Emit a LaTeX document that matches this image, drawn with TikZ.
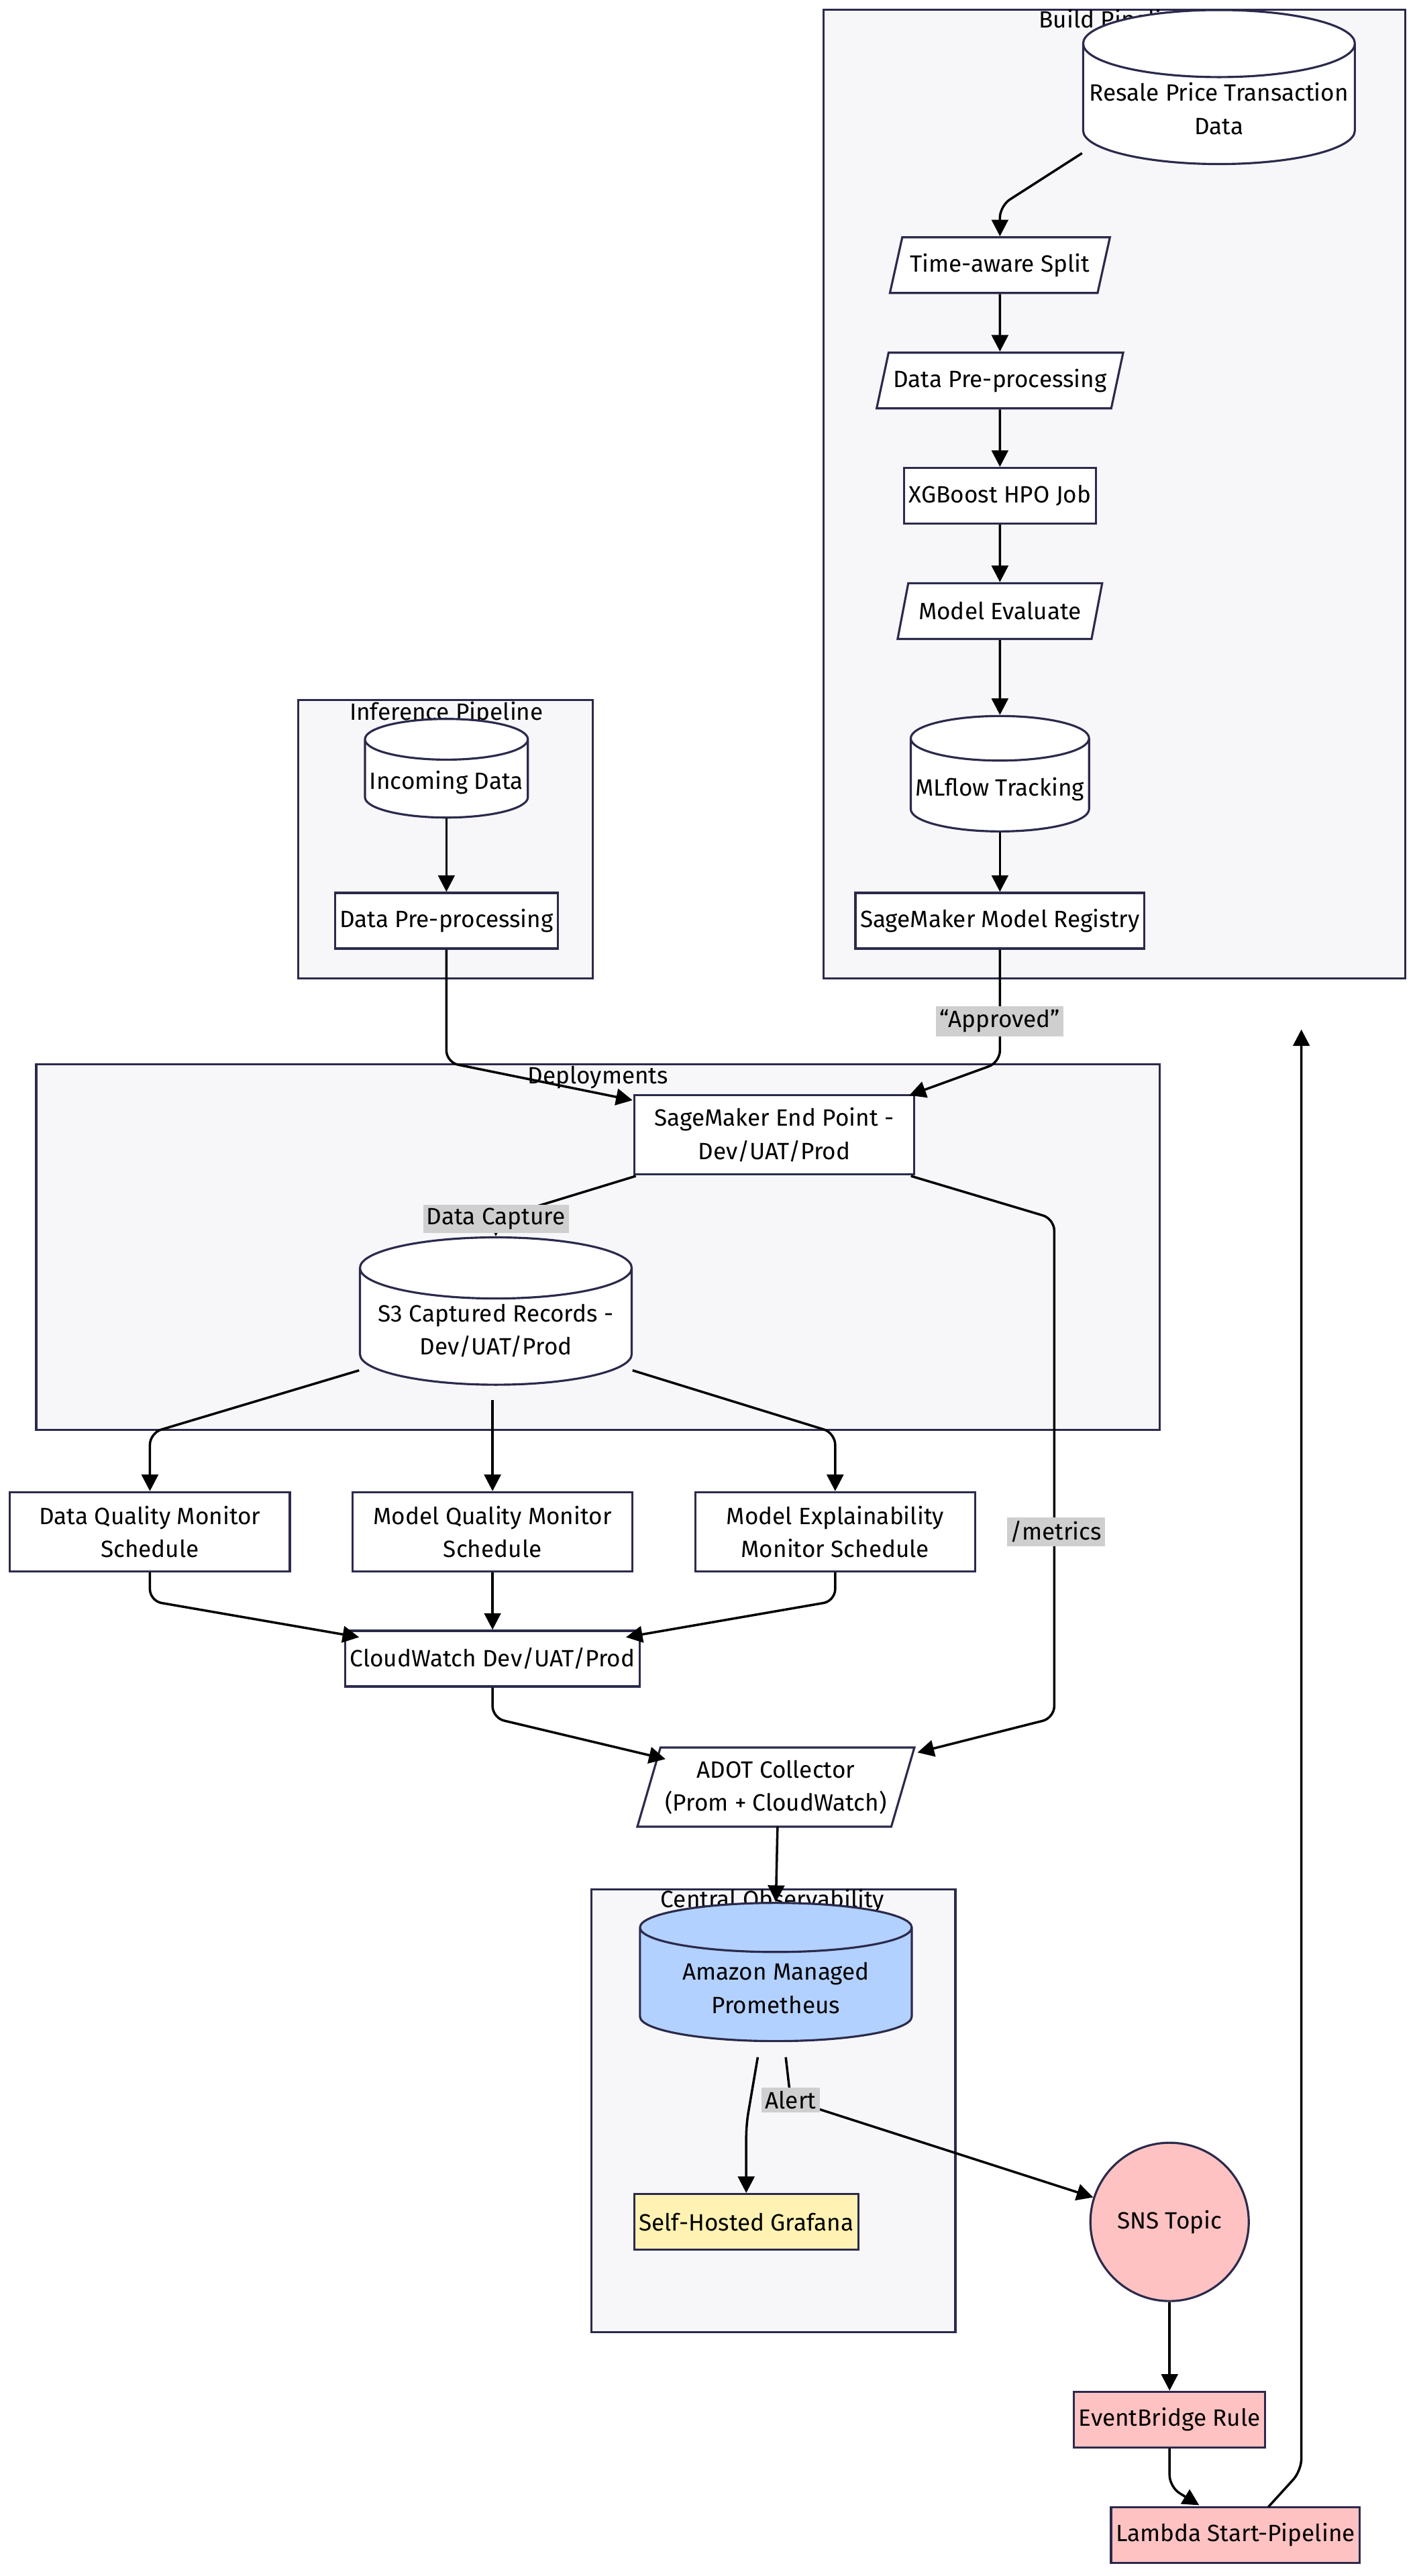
\documentclass[tikz,border=0pt]{standalone}
\usepackage{fontspec}
\setmainfont{Fira Sans}
\usetikzlibrary{shapes.geometric,arrows.meta}
\definecolor{navy}{HTML}{2B2A4C}
\definecolor{clusterbg}{HTML}{F7F7FA}
\definecolor{ampblue}{HTML}{B3D1FF}
\definecolor{grafyellow}{HTML}{FFF2B3}
\definecolor{alertred}{HTML}{FFC2C2}
\definecolor{lblgray}{HTML}{CFCFCF}
\tikzset{
  box/.style={draw=navy,fill=white,line width=0.9pt,align=center,font=\fontsize{10}{14}\selectfont,minimum height=0.83cm,inner sep=2pt},
  db/.style={box,cylinder,shape border rotate=90,aspect=0.25},
  para/.style={box,trapezium,trapezium left angle=70,trapezium right angle=110,trapezium stretches=true},
  cluster/.style={draw=navy,fill=clusterbg,line width=0.9pt},
  ctitle/.style={font=\fontsize{10}{12}\selectfont,inner sep=1pt},
  flow/.style={draw=black,line width=1pt,rounded corners=5pt,-{Triangle[length=7pt,width=7pt]}},
  elabel/.style={fill=lblgray,font=\fontsize{10}{12}\selectfont,inner sep=1.5pt}
}
\begin{document}
\begin{tikzpicture}[x=0.02455cm,y=-0.02455cm]
\useasboundingbox (0,0) rectangle (860,1564);
% clusters
\draw[cluster] (500,6) rectangle (853,594);
\node[ctitle] at (676,13) {Build Pipeline};
\draw[cluster] (181,425) rectangle (360,594);
\node[ctitle] at (271,433) {Inference Pipeline};
\draw[cluster] (22,646) rectangle (704,868);
\node[ctitle] at (363,654) {Deployments};
\draw[cluster] (359,1147) rectangle (580,1416);
\node[ctitle] at (469,1154) {Central Observability};
% build pipeline
\node[db,minimum width=4.05cm,minimum height=2.06cm] (resale) at (740,66) {Resale Price Transaction\\Data};
\node[para,minimum width=3.3cm] (split) at (607,161) {Time-aware Split};
\node[para,minimum width=3.68cm] (prep) at (607,231) {Data Pre-processing};
\node[box,minimum width=2.65cm] (hpo) at (607,301) {XGBoost HPO Job};
\node[para,minimum width=3.07cm] (eval) at (607,371) {Model Evaluate};
\node[db,minimum width=2.5cm,minimum height=1.72cm] (mlflow) at (607,479) {MLflow Tracking};
\node[box,minimum width=3.93cm] (registry) at (607,559) {SageMaker Model Registry};
% inference pipeline
\node[db,minimum width=2.26cm,minimum height=1.47cm] (incoming) at (271,475) {Incoming Data};
\node[box,minimum width=3.14cm] (iprep) at (271,559) {Data Pre-processing};
% deployments
\node[box,minimum width=4.17cm,minimum height=1.18cm] (endpoint) at (470,689) {SageMaker End Point -\\Dev/UAT/Prod};
\node[db,minimum width=4.05cm,minimum height=2.06cm] (s3) at (301,808) {S3 Captured Records -\\Dev/UAT/Prod};
% monitors
\node[box,minimum width=4.17cm,minimum height=1.18cm] (dqm) at (91,930) {Data Quality Monitor\\Schedule};
\node[box,minimum width=4.17cm,minimum height=1.18cm] (mqm) at (299,930) {Model Quality Monitor\\Schedule};
\node[box,minimum width=4.17cm,minimum height=1.18cm] (mem) at (507,930) {Model Explainability\\Monitor Schedule};
\node[box,minimum width=3.88cm] (cw) at (299,1007) {CloudWatch Dev/UAT/Prod};
\node[para,minimum width=4.1cm,minimum height=1.18cm] (adot) at (471,1085) {ADOT Collector\\(Prom + CloudWatch)};
% observability
\node[db,fill=ampblue,minimum width=4.05cm,minimum height=2.06cm] (amp) at (471,1207) {Amazon Managed\\Prometheus};
\node[box,fill=grafyellow,minimum width=3.14cm] (grafana) at (453,1349) {Self-Hosted Grafana};
\node[box,circle,fill=alertred,minimum size=2.36cm] (sns) at (710,1349) {SNS Topic};
\node[box,fill=alertred,minimum width=2.7cm] (rule) at (710,1469) {EventBridge Rule};
\node[box,fill=alertred,minimum width=3.39cm] (lambda) at (750,1539) {Lambda Start-Pipeline};
\coordinate (retrigger) at (790,625);
% connectors
\draw[flow] (resale.west |- 0,93) -- (607,125) -- (split);
\draw[flow] (split) -- (prep);
\draw[flow] (prep) -- (hpo);
\draw[flow] (hpo) -- (eval);
\draw[flow] (eval) -- (mlflow);
\draw[flow] (mlflow) -- (registry);
\draw[flow] (incoming) -- (iprep);
\draw[flow] (registry) -- (607,645) -- (552,665);
\node[elabel] at (607,620) {``Approved''};
\draw[flow] (iprep) -- (271,645) -- (384,668);
\draw[flow] (386,714) -- (301,740) -- (s3.north);
\node[elabel] at (301,740) {Data Capture};
\draw[flow] (553,714) -- (640,740) -- (640,1043) -- (557,1064);
\node[elabel] at (641,930) {/metrics};
\draw[flow] (218,832) -- (91,870) -- (dqm);
\draw[flow] (299,850) -- (mqm);
\draw[flow] (384,832) -- (507,870) -- (mem);
\draw[flow] (dqm) -- (91,972) -- (218,994);
\draw[flow] (mqm) -- (cw);
\draw[flow] (mem) -- (507,972) -- (380,994);
\draw[flow] (cw) -- (299,1043) -- (404,1068);
\draw[flow] (472,1109) -- (amp.north);
\draw[flow] (460,1249) -- (453,1290) -- (grafana);
\draw[flow] (477,1249) -- (480,1275) -- (sns);
\node[elabel] at (480,1275) {Alert};
\draw[flow] (sns) -- (rule);
\draw[flow] (rule) -- (710,1510) -- (728,1521);
\draw[flow] (770,1522) -- (790,1500) -- (retrigger);
\end{tikzpicture}
\end{document}
